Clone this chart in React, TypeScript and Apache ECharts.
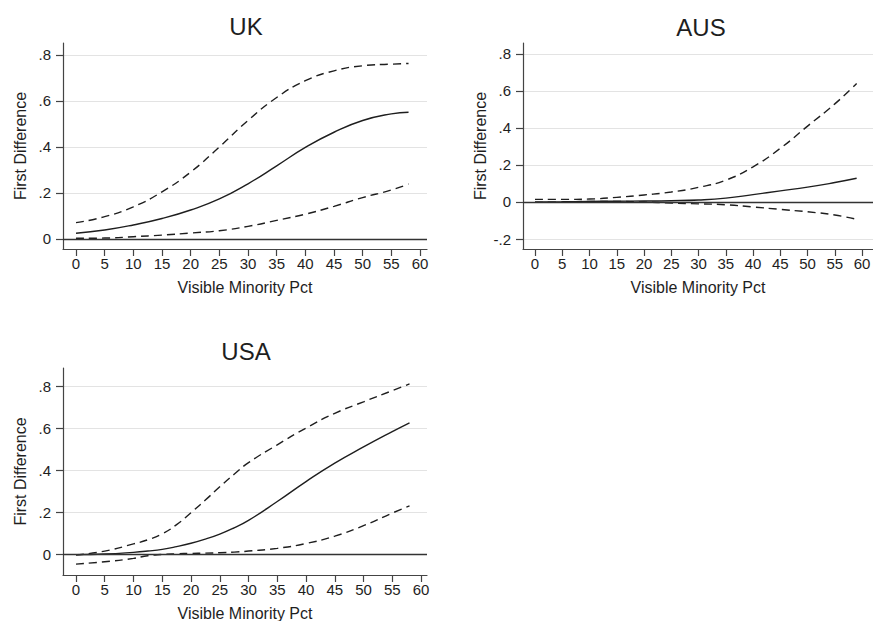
import React, { useEffect, useRef } from "react";
import * as echarts from "echarts";

// ---- data ----
const xTicks = [0, 5, 10, 15, 20, 25, 30, 35, 40, 45, 50, 55, 60];
const yTicksUK = [0, 0.2, 0.4, 0.6, 0.8];
const yTicksAUS = [-0.2, 0, 0.2, 0.4, 0.6, 0.8];
const yTicksUSA = [0, 0.2, 0.4, 0.6, 0.8];

const xUK = [0, 5, 10, 15, 20, 25, 30, 35, 40, 45, 50, 55, 58];
const ukUpper = [0.071, 0.097, 0.14, 0.205, 0.291, 0.4, 0.515, 0.615, 0.688, 0.731, 0.753, 0.76, 0.763];
const ukMid = [0.025, 0.039, 0.061, 0.089, 0.126, 0.174, 0.24, 0.318, 0.398, 0.464, 0.515, 0.544, 0.551];
const ukLower = [0.003, 0.004, 0.01, 0.017, 0.026, 0.036, 0.055, 0.081, 0.108, 0.142, 0.18, 0.213, 0.239];

const xAUS = [0, 5, 10, 15, 20, 25, 30, 35, 40, 45, 50, 55, 59];
const ausUpper = [0.014, 0.014, 0.016, 0.025, 0.038, 0.054, 0.079, 0.118, 0.19, 0.29, 0.41, 0.53, 0.64];
const ausMid = [0, 0.001, 0.003, 0.004, 0.005, 0.007, 0.011, 0.021, 0.04, 0.06, 0.08, 0.105, 0.128];
const ausLower = [-0.002, -0.001, 0.003, 0.003, 0.0, -0.006, -0.01, -0.015, -0.027, -0.04, -0.053, -0.07, -0.094];

const xUSA = [0, 5, 10, 12.5, 15, 17.5, 20, 22.5, 25, 27.5, 30, 35, 40, 45, 50, 55, 58];
const usaUpper = [-0.005, 0.014, 0.048, 0.068, 0.096, 0.14, 0.197, 0.257, 0.32, 0.38, 0.435, 0.52, 0.6, 0.67, 0.725, 0.778, 0.81];
const usaMid = [-0.003, 0, 0.008, 0.014, 0.022, 0.035, 0.051, 0.071, 0.095, 0.125, 0.16, 0.25, 0.345, 0.433, 0.51, 0.583, 0.625];
const usaLower = [-0.048, -0.037, -0.021, -0.008, -0.002, 0.001, 0.003, 0.004, 0.006, 0.009, 0.014, 0.027, 0.05, 0.085, 0.135, 0.195, 0.229];

const titles = ["UK", "AUS", "USA"];
const xTitle = "Visible Minority Pct";
const yTitle = "First Difference";

const FONT = "'Liberation Sans', Arial, Helvetica, sans-serif";
const INK = "#1e1e1e";

function fmtY(v: number): string {
  const r = Math.round(v * 10) / 10;
  if (r === 0) return "0";
  const s = String(Math.abs(r)).replace(/^0/, "");
  return (r < 0 ? "-" : "") + s;
}

function zip(xs: number[], ys: number[]) {
  return xs.map((x, i) => [x, ys[i]]);
}

export default function App() {
  const ref = useRef<HTMLDivElement>(null);
  useEffect(() => {
    if (!ref.current) return;
    const chart = echarts.init(ref.current, undefined, { renderer: "svg" });

    const panels = [
      { grid: { left: 63, top: 43, width: 364, height: 206 }, x: [-2.27, 61.22], y: [-0.0435, 0.852], yt: yTicksUK,
        xs: xUK, up: ukUpper, mid: ukMid, lo: ukLower },
      { grid: { left: 523, top: 43, width: 350, height: 206 }, x: [-2.2, 62.0], y: [-0.254, 0.859], yt: yTicksAUS,
        xs: xAUS, up: ausUpper, mid: ausMid, lo: ausLower },
      { grid: { left: 63, top: 368, width: 364, height: 207 }, x: [-2.26, 61.04], y: [-0.1, 0.886], yt: yTicksUSA,
        xs: xUSA, up: usaUpper, mid: usaMid, lo: usaLower },
    ];

    const grid = panels.map((p) => ({ ...p.grid, containLabel: false, outerBoundsMode: "none" }));
    const xAxis = panels.map((p, i) => ({
      type: "value",
      gridIndex: i,
      min: p.x[0],
      max: p.x[1],
      name: xTitle,
      nameLocation: "middle",
      nameGap: 30,
      nameTextStyle: { fontFamily: FONT, fontSize: 16, color: INK },
      axisLine: { show: true, onZero: false, lineStyle: { color: "#444", width: 1.2 } },
      axisTick: { show: true, length: 7, customValues: xTicks, lineStyle: { color: "#444", width: 1.2 } },
      axisLabel: { show: true, customValues: xTicks, margin: 7, fontFamily: FONT, fontSize: 15, color: INK },
      splitLine: { show: false },
    }));
    const yAxis = panels.map((p, i) => ({
      type: "value",
      gridIndex: i,
      min: p.y[0],
      max: p.y[1],
      name: yTitle,
      nameLocation: "middle",
      nameGap: 35,
      nameTextStyle: { fontFamily: FONT, fontSize: 16, color: INK },
      axisLine: { show: true, onZero: false, lineStyle: { color: "#444", width: 1.2 } },
      axisTick: { show: true, length: 7, customValues: p.yt, lineStyle: { color: "#444", width: 1.2 } },
      axisLabel: { show: true, customValues: p.yt, margin: 12, fontFamily: FONT, fontSize: 15, color: INK, formatter: fmtY },
      splitLine: { show: true, lineStyle: { color: "#e3e3e3", width: 1 } },
    }));

    const series: any[] = [];
    panels.forEach((p, i) => {
      const base = {
        type: "line", xAxisIndex: i, yAxisIndex: i, symbol: "none",
        smooth: 0.5, silent: true,
      };
      series.push({
        ...base,
        data: zip(p.xs, p.mid),
        lineStyle: { color: INK, width: 1.4, type: "solid" },
        markLine: {
          silent: true,
          symbol: ["none", "none"],
          label: { show: false },
          lineStyle: { color: "#333", width: 1.4, type: "solid" },
          data: [{ yAxis: 0 }],
        },
      });
      series.push({ ...base, data: zip(p.xs, p.up), lineStyle: { color: INK, width: 1.4, type: [8, 5] } });
      series.push({ ...base, data: zip(p.xs, p.lo), lineStyle: { color: INK, width: 1.4, type: [8, 5] } });
    });

    const titlePos = [
      [246, 26],
      [701, 27],
      [246, 351],
    ];

    chart.setOption({
      animation: false,
      backgroundColor: "#ffffff",
      grid,
      xAxis,
      yAxis,
      series,
      graphic: titles.map((t, i) => ({
        type: "text",
        x: titlePos[i][0],
        y: titlePos[i][1],
        style: {
          text: t,
          fontFamily: FONT,
          fontSize: 24,
          fill: INK,
          textAlign: "center",
          textVerticalAlign: "middle",
        },
      })),
    });

    return () => chart.dispose();
  }, []);

  return (
    <div
      ref={ref}
      style={{ position: "absolute", left: 0, top: 0, width: 873, height: 621, background: "#fff" }}
    />
  );
}
